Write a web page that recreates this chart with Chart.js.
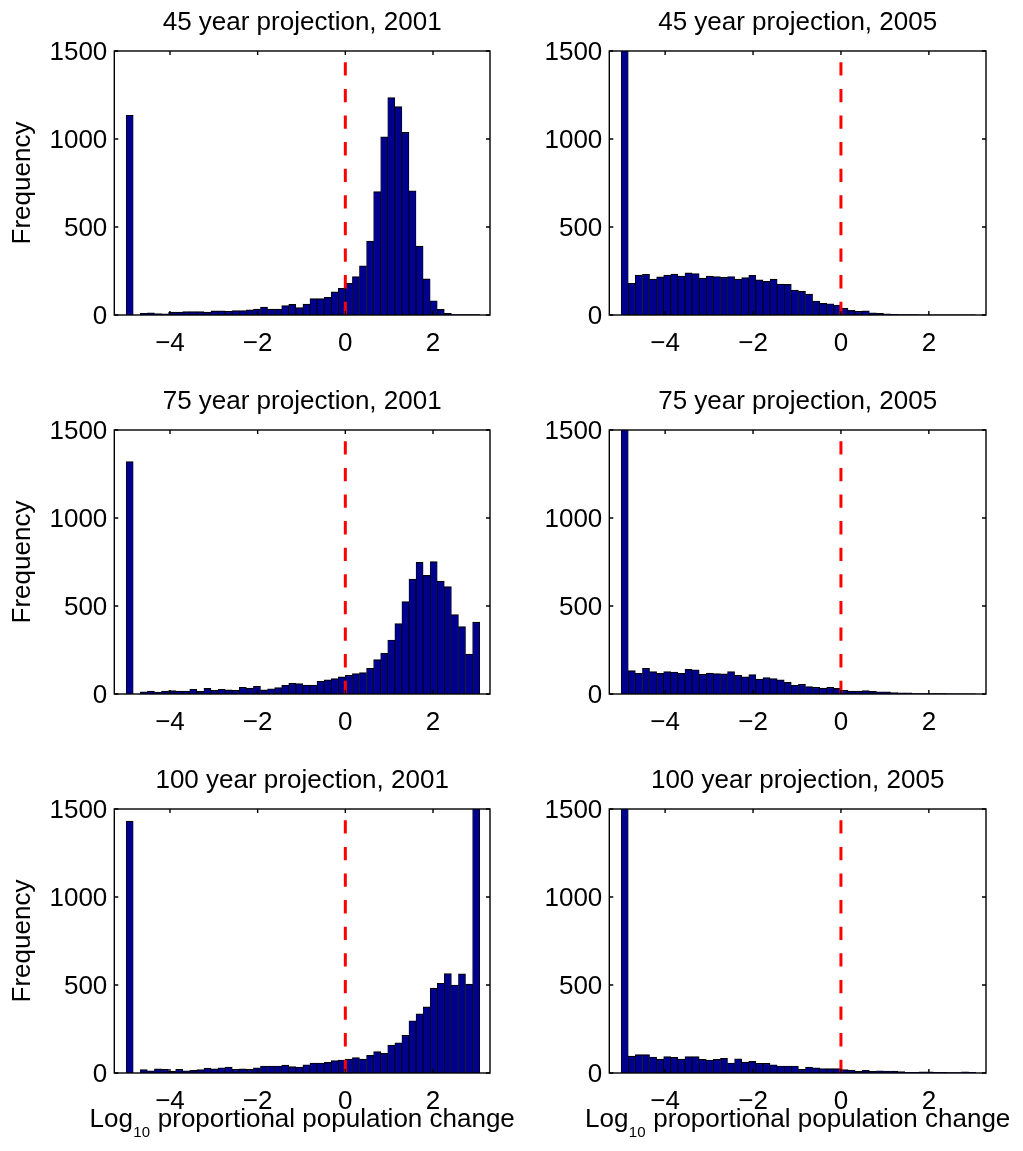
<!DOCTYPE html>
<html>
<head>
<meta charset="utf-8">
<script src="https://cdn.jsdelivr.net/npm/chart.js@4/dist/chart.umd.min.js"></script>
<style>
html, body { margin: 0; padding: 0; background: #fff; }
body { position: relative; width: 1023px; height: 1151px; overflow: hidden; }
canvas { position: absolute; }
</style>
</head>
<body>
<canvas id="p1" width="545" height="365" style="left:0px;top:0px"></canvas>
<canvas id="p2" width="528" height="365" style="left:495px;top:0px"></canvas>
<canvas id="p3" width="545" height="365" style="left:0px;top:379px"></canvas>
<canvas id="p4" width="528" height="365" style="left:495px;top:379px"></canvas>
<canvas id="p5" width="545" height="393" style="left:0px;top:758px"></canvas>
<canvas id="p6" width="528" height="393" style="left:495px;top:758px"></canvas>
<script>
// ---- data ----
const binCenters = [-4.919, -4.758, -4.597, -4.435, -4.274, -4.113, -3.952, -3.790, -3.629, -3.468,
  -3.306, -3.145, -2.984, -2.823, -2.661, -2.500, -2.339, -2.177, -2.016, -1.855,
  -1.694, -1.532, -1.371, -1.210, -1.048, -0.887, -0.726, -0.565, -0.403, -0.242,
  -0.081, 0.081, 0.242, 0.403, 0.565, 0.726, 0.887, 1.048, 1.210, 1.371,
  1.532, 1.694, 1.855, 2.016, 2.177, 2.339, 2.500, 2.661, 2.823, 2.984];

const xTickValues = [-4, -2, 0, 2];
const yTickValues = [0, 500, 1000, 1500];

const panelTitles = [
  '45 year projection, 2001', '45 year projection, 2005',
  '75 year projection, 2001', '75 year projection, 2005',
  '100 year projection, 2001', '100 year projection, 2005'
];

const freq45y2001 = [1135, 0, 10, 13, 8, 6, 17, 17, 19, 19,
  19, 17, 23, 23, 21, 25, 25, 30, 34, 45,
  34, 34, 53, 60, 42, 62, 93, 93, 100, 131,
  152, 180, 218, 280, 420, 701, 1013, 1235, 1184, 1038,
  706, 392, 205, 81, 32, 9, 3, 2, 2, 2];

const freq45y2005 = [2900, 180, 227, 231, 204, 217, 227, 232, 221, 240,
  236, 210, 221, 219, 214, 219, 204, 212, 225, 200,
  191, 204, 176, 174, 142, 134, 119, 79, 66, 64,
  57, 38, 26, 21, 23, 13, 9, 6, 4, 3,
  2, 2, 1, 1, 1, 1, 1, 1, 1, 1];

const freq75y2001 = [1320, 0, 13, 17, 11, 17, 19, 17, 17, 27,
  15, 32, 21, 27, 23, 21, 38, 34, 44, 23,
  30, 36, 49, 61, 59, 51, 51, 72, 80, 87,
  97, 106, 116, 121, 146, 195, 231, 307, 400, 525,
  653, 748, 674, 752, 642, 610, 451, 383, 227, 409];

const freq75y2005 = [2700, 133, 117, 146, 127, 117, 127, 125, 117, 140,
  138, 112, 119, 116, 114, 127, 106, 97, 110, 85,
  93, 87, 80, 66, 49, 55, 42, 38, 34, 38,
  32, 21, 17, 17, 19, 15, 13, 13, 8, 6,
  6, 3, 3, 2, 2, 2, 1, 1, 1, 1];

const freq100y2001 = [1431, 0, 19, 13, 23, 21, 9, 21, 13, 15,
  19, 28, 23, 30, 34, 21, 23, 21, 30, 40,
  40, 40, 45, 36, 34, 47, 57, 57, 60, 70,
  74, 79, 87, 79, 100, 121, 112, 159, 172, 214,
  297, 336, 376, 482, 510, 565, 499, 563, 505, 2000];

const freq100y2005 = [3300, 96, 104, 104, 91, 79, 93, 89, 79, 93,
  93, 77, 74, 77, 83, 57, 81, 62, 66, 55,
  55, 47, 40, 40, 40, 21, 34, 30, 25, 25,
  25, 19, 17, 9, 15, 9, 13, 11, 11, 8,
  4, 4, 6, 6, 4, 4, 2, 2, 6, 4];

const zeroLineX = 0;
const xLabelParts = ['Log', '10', ' proportional population change'];
const yLabel = 'Frequency';

// ---- styling / layout ----
const FONT = "'Liberation Sans', Arial, Helvetica, sans-serif";
const FS = 26;
const SUB_FS = 15;
Chart.defaults.font.family = FONT;
Chart.defaults.font.size = FS;
Chart.defaults.color = '#000';

const X_MIN = -5.27, X_MAX = 3.30, Y_MIN = 0, Y_MAX = 1500;

const boxPlugin = {
  id: 'matlabBox',
  afterDatasetsDraw(chart) {
    const { ctx, chartArea: a, scales: { x, y } } = chart;
    ctx.save();
    ctx.strokeStyle = '#000';
    ctx.lineWidth = 1.4;
    ctx.beginPath();
    x.ticks.forEach(t => {
      const px = x.getPixelForValue(t.value);
      ctx.moveTo(px, a.bottom); ctx.lineTo(px, a.bottom - 4);
      ctx.moveTo(px, a.top); ctx.lineTo(px, a.top + 4);
    });
    y.ticks.forEach(t => {
      const py = y.getPixelForValue(t.value);
      ctx.moveTo(a.left, py); ctx.lineTo(a.left + 4, py);
      ctx.moveTo(a.right, py); ctx.lineTo(a.right - 4, py);
    });
    ctx.stroke();
    ctx.strokeRect(a.left, a.top, a.right - a.left, a.bottom - a.top);
    ctx.restore();
  }
};

// x-axis label with a real subscript (drawn without width compression)
const subLabelPlugin = {
  id: 'subLabel',
  afterDraw(chart, args, opts) {
    if (!opts.display) return;
    const { ctx, chartArea: a } = chart;
    const [base, sub, rest] = opts.parts;
    ctx.save();
    ctx.fillStyle = '#000';
    ctx.textBaseline = 'alphabetic';
    ctx.textAlign = 'left';
    const big = FS + 'px ' + FONT, small = SUB_FS + 'px ' + FONT;
    ctx.font = big; const w1 = ctx.measureText(base).width, w3 = ctx.measureText(rest).width;
    ctx.font = small; const w2 = ctx.measureText(sub).width + 1;
    const total = w1 + w2 + w3;
    const x0 = (a.left + a.right) / 2 - total / 2;
    const yb = chart.height - opts.baselineFromBottom;
    ctx.font = big; ctx.fillText(base, x0, yb);
    ctx.font = small; ctx.fillText(sub, x0 + w1 + 0.5, yb + 10.5);
    ctx.font = big; ctx.fillText(rest, x0 + w1 + w2, yb);
    ctx.restore();
  }
};

function makeChart(id, title, values, showY, showX, padRight) {
  return new Chart(document.getElementById(id), {
    type: 'bar',
    data: {
      datasets: [
        {
          type: 'line',
          data: [{ x: zeroLineX, y: Y_MIN }, { x: zeroLineX, y: Y_MAX }],
          borderColor: '#ff0000',
          borderWidth: 3,
          borderDash: [13.3, 13.3],
          pointRadius: 0,
          fill: false,
          clip: 0,
          order: 0
        },
        {
          type: 'bar',
          data: binCenters.map((c, i) => ({ x: c, y: values[i] })),
          backgroundColor: '#00008f',
          borderColor: '#000000',
          borderWidth: { top: 1.2, left: 0.8, right: 0.8, bottom: 0 },
          borderSkipped: 'bottom',
          barPercentage: 1,
          categoryPercentage: 1,
          clip: 0,
          order: 1
        }
      ]
    },
    options: {
      responsive: false,
      animation: false,
      events: [],
      layout: { padding: { left: 0, right: padRight, top: 0, bottom: 0 } },
      plugins: {
        legend: { display: false },
        tooltip: { enabled: false },
        title: {
          display: true,
          text: title,
          fullSize: false,
          color: '#000',
          font: { size: FS, weight: 'normal', family: FONT },
          padding: { top: 7, bottom: 12.8 }
        },
        subLabel: { display: showX, parts: xLabelParts, baselineFromBottom: 24.3 }
      },
      scales: {
        x: {
          type: 'linear',
          min: X_MIN,
          max: X_MAX,
          offset: false,
          grid: { display: false, drawTicks: false },
          border: { display: false },
          afterBuildTicks: s => { s.ticks = xTickValues.map(v => ({ value: v })); },
          afterFit: s => { s.height = showX ? 78 : 50; },
          ticks: {
            padding: 13,
            maxRotation: 0,
            autoSkip: false,
            color: '#000',
            font: { size: FS },
            callback: v => (v < 0 ? '\u2212' + Math.abs(v) : String(v))
          },
          title: { display: false }
        },
        y: {
          type: 'linear',
          min: Y_MIN,
          max: Y_MAX,
          grid: { display: false, drawTicks: false },
          border: { display: false },
          afterBuildTicks: s => { s.ticks = yTickValues.map(v => ({ value: v })); },
          afterFit: s => { s.width = 114.3; },
          ticks: {
            padding: 7,
            labelOffset: 2,
            color: '#000',
            font: { size: FS },
            callback: v => String(v)
          },
          title: {
            display: showY,
            text: yLabel,
            color: '#000',
            font: { size: FS },
            padding: { top: 7, bottom: 0 }
          }
        }
      }
    },
    plugins: [boxPlugin, subLabelPlugin]
  });
}

// left column: chart area 114.3..490 ; right column (canvas at 495): 609.3..986
makeChart('p1', panelTitles[0], freq45y2001, true, false, 55);
makeChart('p2', panelTitles[1], freq45y2005, false, false, 37);
makeChart('p3', panelTitles[2], freq75y2001, true, false, 55);
makeChart('p4', panelTitles[3], freq75y2005, false, false, 37);
makeChart('p5', panelTitles[4], freq100y2001, true, true, 55);
makeChart('p6', panelTitles[5], freq100y2005, false, true, 37);
</script>
</body>
</html>
